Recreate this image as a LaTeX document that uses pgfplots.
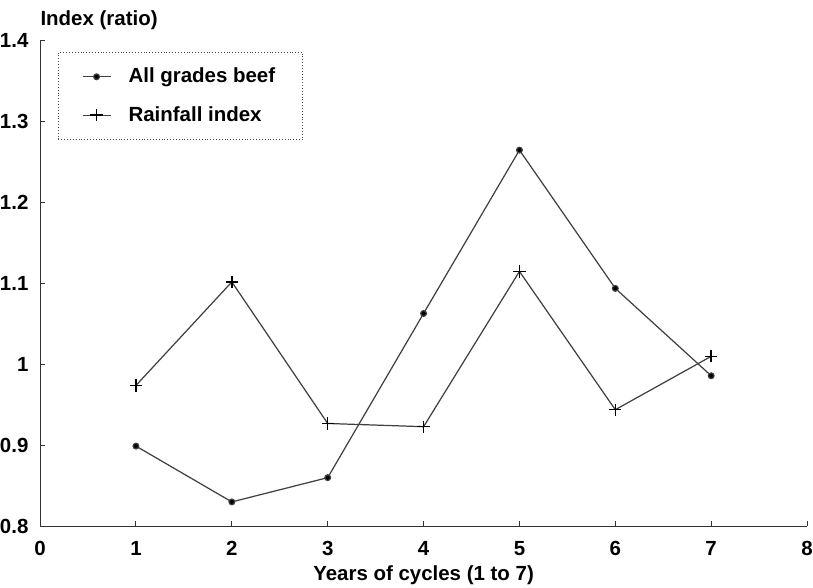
\documentclass[border=0pt]{standalone}
\usepackage{fontspec}
\setmainfont{Liberation Sans}
\usepackage{pgfplots}
\pgfplotsset{compat=1.18}
\begin{document}
\begin{tikzpicture}
\path (-19.53pt,-29.78pt) rectangle (377.8pt,257.2pt);
\begin{axis}[
  at={(0,0)}, anchor=origin,
  scale only axis,
  width=374.9pt, height=237.2pt,
  xmin=0, xmax=8, ymin=0.8, ymax=1.4,
  axis lines=left,
  axis line style={-, black!80, line width=0.5pt},
  xtick={0,1,...,8},
  ytick={0.8,0.9,1,1.1,1.2,1.3,1.4},
  tick align=inside,
  major tick length=2.5pt,
  tick style={black!80, line width=0.5pt},
  /pgf/number format/assume math mode=true,
  ticklabel style={font=\bfseries},
  yticklabel style={inner sep=0pt, xshift=-5.5pt},
  xticklabel style={inner sep=0pt, yshift=-7.1pt},
  xlabel={Years of cycles (1 to 7)},
  xlabel style={font=\bfseries, at={(axis description cs:0.5,0)}, anchor=center, inner sep=0pt, yshift=-23.9pt},
  title={Index (ratio)},
  title style={font=\bfseries, at={(axis description cs:0,1)}, anchor=west, yshift=4.3pt, inner sep=0pt},
  legend style={at={(axis description cs:0.0234,0.977)}, anchor=north west,
    draw=black!70, densely dotted, font=\bfseries,
    inner xsep=11.5pt, inner ysep=5.5pt, row sep=6pt},
  legend cell align=left,
  legend image code/.code={
    \draw[mark repeat=2,mark phase=2,#1, solid]
      plot coordinates {(0cm,0cm) (0.24cm,0cm) (0.48cm,0cm)};},
]
\addplot[black!75, line width=0.6pt, mark=*, mark size=1.4pt, mark options={solid, fill=black}]
  coordinates {(1,0.899) (2,0.830) (3,0.860) (4,1.063) (5,1.265) (6,1.094) (7,0.986)};
\addlegendentry{\hspace{6.5pt}All grades beef\hspace{7.5pt}}
\addplot[black!75, line width=0.6pt, mark=+, mark size=3pt, mark options={solid, line width=0.7pt, black}]
  coordinates {(1,0.974) (2,1.102) (3,0.927) (4,0.923) (5,1.115) (6,0.944) (7,1.010)};
\addlegendentry{\hspace{6.5pt}Rainfall index}
\end{axis}
\end{tikzpicture}
\end{document}
